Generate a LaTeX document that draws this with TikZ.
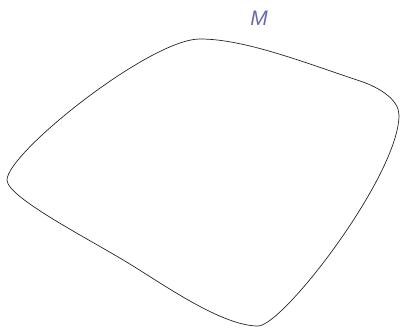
\documentclass[tikz,border=0pt]{standalone}
\usepackage{xcolor}
\usepackage{fontspec}
\usepackage{tikz}
\newfontfamily\labelfont{Liberation Sans}
\definecolor{manifoldblue}{RGB}{104,104,178}

\begin{document}
\begin{tikzpicture}[
    x=1pt, y=-1pt,
    outline/.style={draw=black!85, line width=0.7pt},
    mname/.style={text=manifoldblue, font=\labelfont\itshape\fontsize{21}{23}\selectfont, inner sep=0pt}
]
    \useasboundingbox (0,0) rectangle (400,328);

    % corners of the region
    \coordinate (west) at (7,180);
    \coordinate (north) at (200,39);
    \coordinate (east) at (399,115);
    \coordinate (south) at (258,326);

    \draw[outline] (west)
        .. controls (7,153) and (150,39) .. (north)
        .. controls (245,39) and (305,62.8) .. (360,81)
        .. controls (380,87.6) and (399,100) .. (east)
        .. controls (399,175) and (283,326) .. (south)
        .. controls (223,326) and (167,287) .. (133,266)
        .. controls (95,242) and (7,198) .. (west) -- cycle;

    \node[mname] (mlabel) at (259,18) {M};
\end{tikzpicture}
\end{document}
